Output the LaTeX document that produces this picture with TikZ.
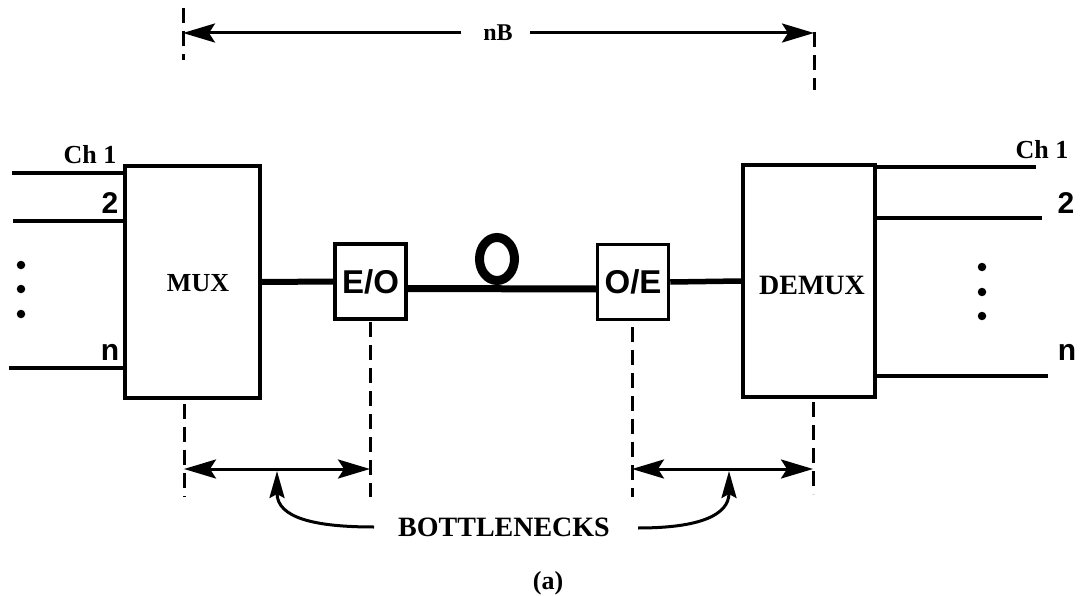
\documentclass[tikz,border=0pt]{standalone}
\usepackage{fontspec}
\setmainfont{Liberation Serif}
\setsansfont{Liberation Sans}
\usetikzlibrary{arrows.meta}
\tikzset{
  blk/.style={draw, line width=4pt, inner sep=0pt},
  smallblk/.style={draw, line width=3.5pt, inner sep=0pt, minimum width=71pt, minimum height=75pt, font=\sffamily\bfseries\fontsize{33}{33}\selectfont},
  sig/.style={line width=3.5pt},
  thick sig/.style={line width=6pt},
  dimline/.style={line width=3pt, -{Stealth[length=32pt,width=19pt,inset=6pt]}},
  dimboth/.style={line width=3pt, {Stealth[length=32pt,width=19pt,inset=6pt]}-{Stealth[length=32pt,width=19pt,inset=6pt]}},
  pointer/.style={line width=3pt, -{Stealth[length=27pt,width=15pt,inset=4pt]}},
  guide/.style={line width=3pt, dash pattern=on 15pt off 8pt},
  serifbold/.style={font=\bfseries\fontsize{#1}{#1}\selectfont, inner sep=0pt},
  sansbold/.style={font=\sffamily\bfseries\fontsize{#1}{#1}\selectfont, inner sep=0pt},
  dot/.style={circle, fill, inner sep=0pt, minimum size=8.5pt}
}
\begin{document}
\begin{tikzpicture}[x=1pt,y=-1pt]
\useasboundingbox (0,0) rectangle (1081,596);

% main blocks
\node[blk, minimum width=135pt, minimum height=232pt] (mux) at (192.5,282) {};
\node[serifbold=26] (muxl) at (198,283) {MUX};
\node[blk, minimum width=132pt, minimum height=232pt] (demux) at (809,281) {};
\node[serifbold=28] (demuxl) at (812,285) {DEMUX};
\node[smallblk] (eo) at (370.5,281.5) {E/O};
\node[smallblk] (oe) at (633,282) {O/E};

% links
\draw[thick sig] (mux.east) -- (eo.west);
\draw[line width=5.5pt] (oe.east) -- (demux.west);
\draw[line width=9pt] (497,259) ellipse [x radius=17.5pt, y radius=21.5pt];
\draw[line width=7pt] ([yshift=-7pt]eo.east) -- ([yshift=-7pt]oe.west);

% inputs
\coordinate (i1) at (12,173);
\coordinate (i2) at (13,221);
\coordinate (in) at (9,368);
\draw[sig] (i1) -- (i1 -| mux.west);
\draw[sig] (i2) -- (i2 -| mux.west);
\draw[sig] (in) -- (in -| mux.west);
\node[serifbold=26] (lch1) at (90,155) {Ch 1};
\node[sansbold=30] (l2) at (110,203) {2};
\node[sansbold=30] (ln) at (110,352) {n};
\node[dot] (ld1) at (21,265) {};
\node[dot] (ld2) at (21,289) {};
\node[dot] (ld3) at (21,314) {};

% outputs
\coordinate (o1) at (1036,167);
\coordinate (o2) at (1042,218);
\coordinate (on) at (1048,376);
\draw[sig] (o1 -| demux.east) -- (o1);
\draw[sig] (o2 -| demux.east) -- (o2);
\draw[sig] (on -| demux.east) -- (on);
\node[serifbold=26] (rch1) at (1042,150) {Ch 1};
\node[sansbold=30] (r2) at (1066,203) {2};
\node[sansbold=30] (rn) at (1067,352) {n};
\node[dot] (rd1) at (982,267) {};
\node[dot] (rd2) at (982,292) {};
\node[dot] (rd3) at (982,316) {};

% top dimension nB
\coordinate (tl1) at (183,8);
\coordinate (tl2) at (183,60);
\coordinate (tr1) at (814,32);
\coordinate (tr2) at (814,90);
\draw[guide] (tl1) -- (tl2);
\draw[guide] (tr1) -- (tr2);
\node[serifbold=24] (nb) at (498,33) {nB};
\coordinate (ta) at (461,33);
\coordinate (tb) at (530,33);
\draw[dimline] (ta) -- (ta -| tl1);
\draw[dimline] (tb) -- (tb -| tr1);

% bottom guides
\coordinate (g1a) at (184,404);
\coordinate (g1b) at (184,497);
\coordinate (g2a) at (370,322);
\coordinate (g2b) at (370,497);
\coordinate (g3a) at (632,327);
\coordinate (g3b) at (632,497);
\coordinate (g4a) at (813,402);
\coordinate (g4b) at (813,494);
\draw[guide] (g1a) -- (g1b);
\draw[guide] (g2a) -- (g2b);
\draw[guide] (g3a) -- (g3b);
\draw[guide] (g4a) -- (g4b);
\coordinate (b1l) at (184,469);
\coordinate (b1r) at (370,469);
\coordinate (b2l) at (632,469);
\coordinate (b2r) at (813,469);
\draw[dimboth] (b1l) -- (b1r);
\draw[dimboth] (b2l) -- (b2r);

% bottlenecks label and pointers
\node[serifbold=28] (bn) at (504,527) {BOTTLENECKS};
\coordinate (p1) at (277,471);
\coordinate (p2) at (729,471);
\draw[pointer] (374,527) .. controls (315,527) and (277,518) .. (p1);
\draw[pointer] (638,528) .. controls (700,528) and (729,515) .. (p2);

\node[serifbold=26] (cap) at (548,583) {(a)};
\end{tikzpicture}
\end{document}
